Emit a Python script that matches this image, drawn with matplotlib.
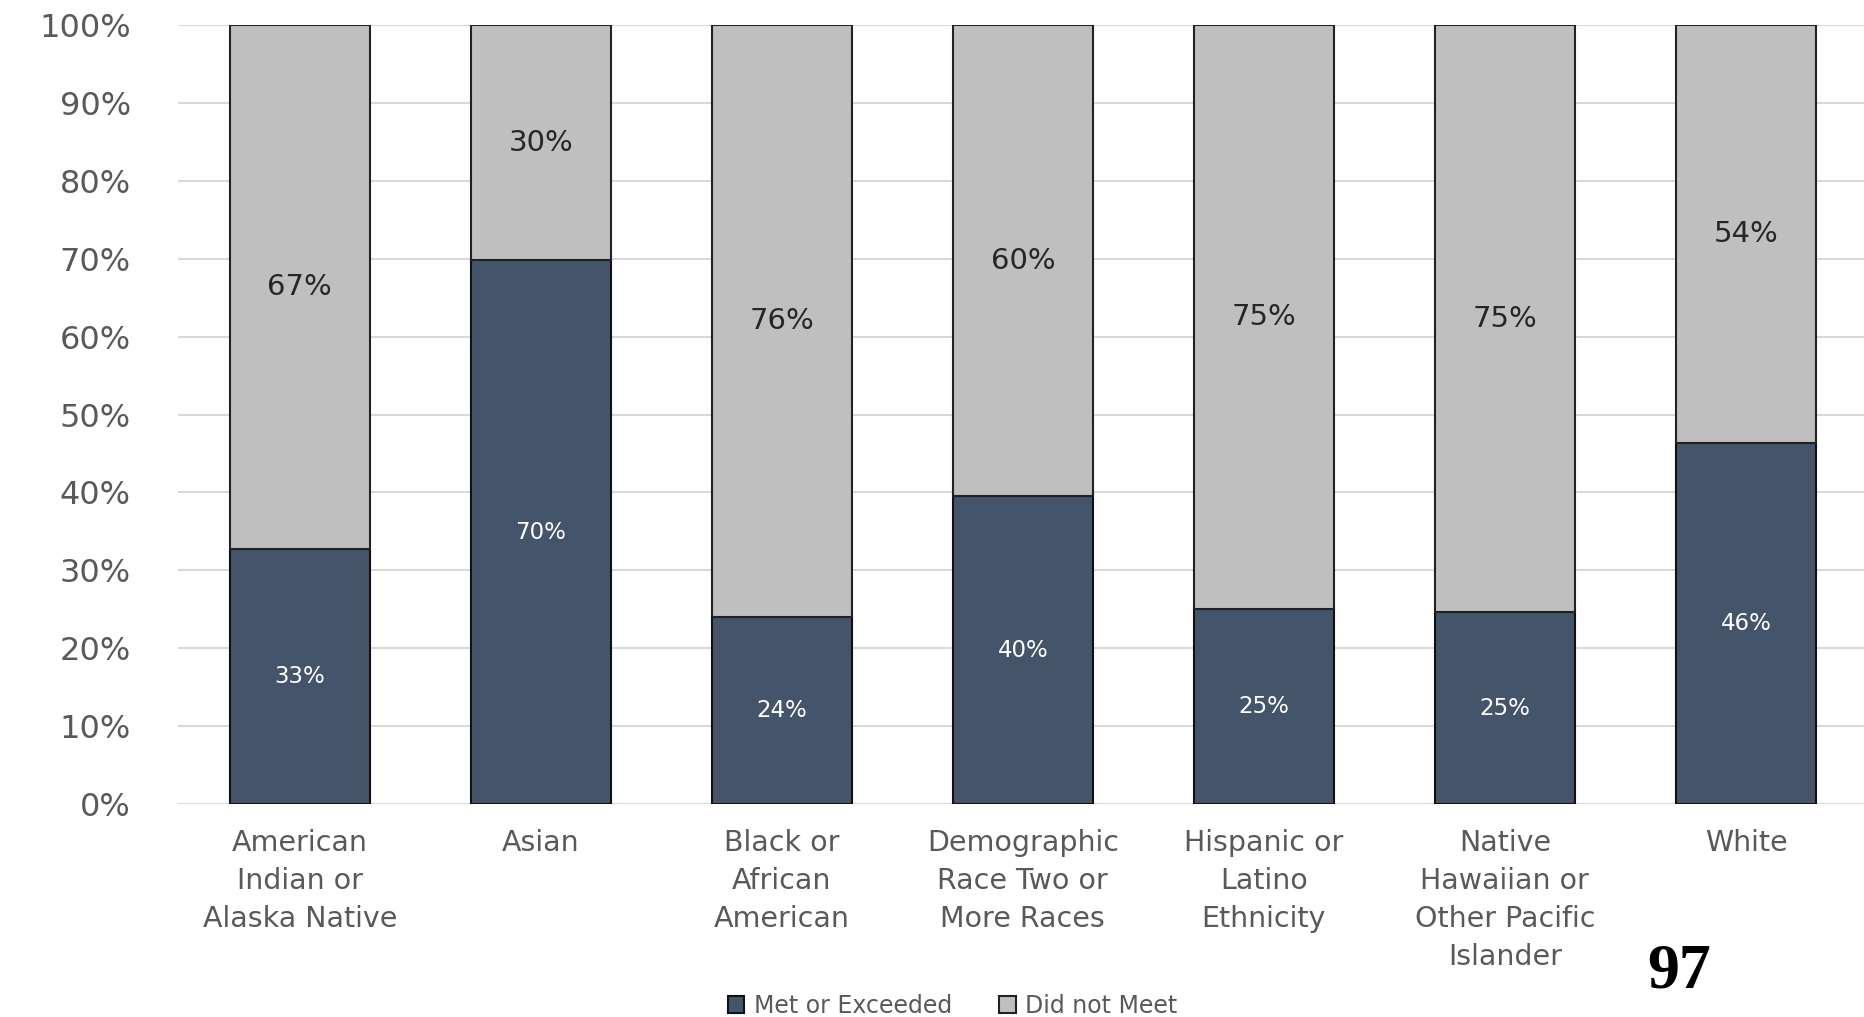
import matplotlib
matplotlib.use("Agg")
import matplotlib.pyplot as plt
from matplotlib.patches import Patch

categories = ["American\nIndian or\nAlaska Native", "Asian", "Black or\nAfrican\nAmerican",
              "Demographic\nRace Two or\nMore Races", "Hispanic or\nLatino\nEthnicity",
              "Native\nHawaiian or\nOther Pacific\nIslander", "White"]
met = [32.7, 69.8, 24.0, 39.5, 25.0, 24.6, 46.3]
did_not = [67.3, 30.2, 76.0, 60.5, 75.0, 75.4, 53.7]
yticks = [0, 10, 20, 30, 40, 50, 60, 70, 80, 90, 100]
series_names = ["Met or Exceeded", "Did not Meet"]
page_number = "97"

dark = "#44546A"
light = "#BFBFBF"
gray_text = "#595959"

fig = plt.figure(figsize=(18.64, 10.17), dpi=100)
ax = fig.add_axes([0.0955, 0.2094, 0.9045, 0.766])

x = list(range(len(categories)))
w = 0.58
ax.bar(x, met, width=w, color=dark, edgecolor="#111111", linewidth=1.5, zorder=3)
ax.bar(x, did_not, width=w, bottom=met, color=light, edgecolor="#222222", linewidth=1.5, zorder=3)

for xi, m, d in zip(x, met, did_not):
    ax.text(xi, m / 2, f"{m:.0f}%", ha="center", va="center", color="white", fontsize=16.5, zorder=4)
    ax.text(xi, m + d / 2, f"{d:.0f}%", ha="center", va="center", color="#262626", fontsize=21, zorder=4)

ax.set_xlim(-0.505, 6.49)
ax.set_ylim(0, 100)
ax.set_yticks(yticks)
ax.set_yticklabels([f"{t}%" for t in yticks])
ax.set_xticks(x)
ax.set_xticklabels(categories, linespacing=1.45)
ax.tick_params(axis="y", length=0, pad=34, labelsize=23, labelcolor=gray_text)
ax.tick_params(axis="x", length=0, pad=18, labelsize=20.5, labelcolor=gray_text)
for lbl in ax.get_xticklabels():
    lbl.set_verticalalignment("top")
ax.grid(axis="y", color="#D9D9D9", linewidth=1.5, zorder=0)
for s in ax.spines.values():
    s.set_visible(False)

handles = [Patch(facecolor=dark, edgecolor="#111111", linewidth=1.5),
           Patch(facecolor=light, edgecolor="#222222", linewidth=1.5)]
fig.legend(handles, series_names, loc="center", bbox_to_anchor=(0.511, 0.011), ncol=2,
           frameon=False, fontsize=17, labelcolor=gray_text, handlelength=0.7, handleheight=0.7,
           handletextpad=0.4, columnspacing=2.0)

fig.text(0.901, 0.044, page_number, fontsize=46, fontweight="bold", family="Liberation Serif",
         ha="center", va="center", color="black")

fig.savefig("out.png", dpi=100, facecolor="white")
